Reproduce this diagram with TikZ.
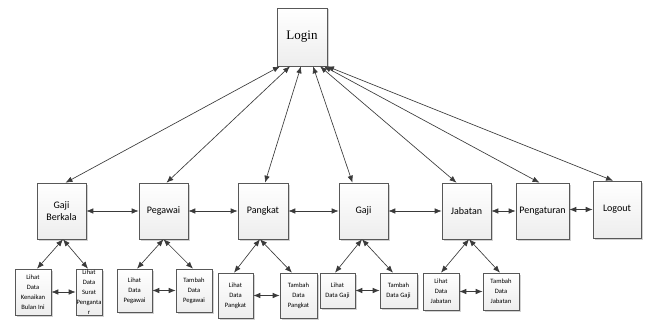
\documentclass[tikz,border=0pt]{standalone}
\usepackage{fontspec}
\setmainfont{Carlito}
\newfontfamily\loginfont{Liberation Serif}
\usetikzlibrary{arrows.meta,shadows}
\definecolor{ln}{HTML}{3A3A3A}
\begin{document}
\begin{tikzpicture}[x=1pt,y=-1pt,
  box/.style={draw=ln!85, line width=0.6pt, top color=white, bottom color=gray!14,
    drop shadow={shadow xshift=1.5pt, shadow yshift=-1.5pt, opacity=0.35},
    inner sep=0pt, align=center, text=black},
  big/.style={box, font=\fontsize{10}{12}\selectfont},
  small/.style={box, font=\fontsize{6.6}{10}\selectfont},
  link/.style={draw=ln, line width=0.65pt, {Latex[length=7pt,width=5.5pt]}-{Latex[length=7pt,width=5.5pt]}}
]
\useasboundingbox[fill=white] (0,0) rectangle (645,321);
% top
\node[box, minimum width=50pt, minimum height=58pt, font=\loginfont\fontsize{13}{15}\selectfont] (login) at (302,37) {Login};
% level 1
\node[big, minimum width=49pt, minimum height=56pt] (gb) at (61.5,211) {Gaji\\Berkala};
\node[big, minimum width=49pt, minimum height=56pt] (peg) at (163.5,211) {Pegawai};
\node[big, minimum width=50pt, minimum height=56pt] (pang) at (263,211) {Pangkat};
\node[big, minimum width=49pt, minimum height=56pt] (gaji) at (363.5,211) {Gaji};
\node[big, minimum width=49pt, minimum height=56pt] (jab) at (466.5,211) {Jabatan};
\node[big, minimum width=53pt, minimum height=56pt] (peng) at (542.5,211) {Pengaturan};
\node[big, minimum width=48pt, minimum height=57pt] (logout) at (617,209.5) {Logout};
% level 2
\node[small, minimum width=36pt, minimum height=46pt] (lk) at (33,292) {Lihat\\Data\\Kenaikan\\Bulan Ini};
\node[small, minimum width=26pt, minimum height=46pt] (ls) at (89,292) {Lihat\\Data\\Surat\\Penganta\\r};
\node[small, minimum width=35pt, minimum height=43pt] (lp) at (134.5,290.5) {Lihat\\Data\\Pegawai};
\node[small, minimum width=36pt, minimum height=43pt] (tp) at (194,290.5) {Tambah\\Data\\Pegawai};
\node[small, minimum width=35pt, minimum height=45pt] (lpk) at (235.5,295.5) {Lihat\\Data\\Pangkat};
\node[small, minimum width=37pt, minimum height=45pt] (tpk) at (298.5,295.5) {Tambah\\Data\\Pangkat};
\node[small, minimum width=35pt, minimum height=35pt] (lg) at (337.5,290.5) {Lihat\\Data Gaji};
\node[small, minimum width=37pt, minimum height=35pt] (tg) at (398.5,290.5) {Tambah\\Data Gaji};
\node[small, minimum width=36pt, minimum height=37pt] (lj) at (441,291.5) {Lihat\\Data\\Jabatan};
\node[small, minimum width=36pt, minimum height=37pt] (tj) at (501,291.5) {Tambah\\Data\\Jabatan};
% login links
\draw[link] ([xshift=-22pt]login.south) -- ([xshift=4pt]gb.north);
\draw[link] ([xshift=-12pt]login.south) -- ([xshift=3pt]peg.north);
\draw[link] ([xshift=-1pt]login.south) -- ([xshift=2pt]pang.north);
\draw[link] ([xshift=11pt]login.south) -- ([xshift=-11pt]gaji.north);
\draw[link] ([xshift=18pt]login.south) -- ([xshift=-10pt]jab.north);
\draw[link] ([xshift=22pt]login.south) -- ([xshift=-3pt]peng.north);
\draw[link] ([xshift=25pt]login.south) -- ([xshift=-4pt]logout.north);
% level 1 horizontal
\draw[link] (gb) -- (peg);
\draw[link] (peg) -- (pang);
\draw[link] (pang) -- (gaji);
\draw[link] (gaji) -- (jab);
\draw[link] (jab) -- (peng);
\draw[link] (peng.east |- logout.west) -- (logout.west);
% level 2 links
\draw[link] ([xshift=1.5pt]gb.south) -- ([xshift=4pt]lk.north);
\draw[link] ([xshift=1.5pt]gb.south) -- ([xshift=-1pt]ls.north);
\draw[link] (peg.south) -- ([xshift=2.5pt]lp.north);
\draw[link] (peg.south) -- ([xshift=-1pt]tp.north);
\draw[link] ([xshift=-3pt]pang.south) -- ([xshift=-1.5pt]lpk.north);
\draw[link] ([xshift=-3pt]pang.south) -- ([xshift=-6.5pt]tpk.north);
\draw[link] ([xshift=-1.5pt]gaji.south) -- ([xshift=-2.5pt]lg.north);
\draw[link] ([xshift=-1.5pt]gaji.south) -- ([xshift=-5.5pt]tg.north);
\draw[link] ([xshift=2.5pt]jab.south) -- (lj.north);
\draw[link] ([xshift=2.5pt]jab.south) -- ([xshift=-1pt]tj.north);
% level 2 horizontal
\draw[link] (lk) -- (ls);
\draw[link] (lp) -- (tp);
\draw[link] (lpk) -- (tpk);
\draw[link] (lg) -- (tg);
\draw[link] (lj) -- (tj);
\end{tikzpicture}
\end{document}
